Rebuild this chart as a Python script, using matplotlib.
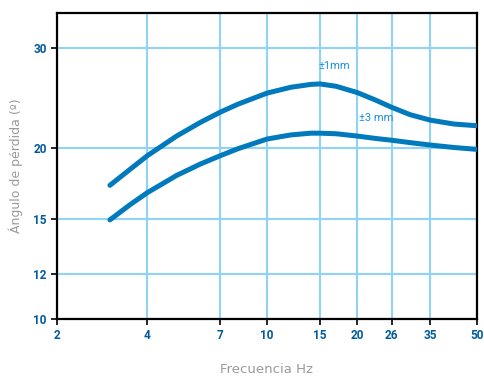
import matplotlib
matplotlib.use("Agg")
import matplotlib.pyplot as plt
from matplotlib.ticker import FixedLocator, NullLocator, FixedFormatter

# (Hz, degrees)
freq = [3, 3.5, 4, 5, 6, 7, 8, 10, 12, 14, 15, 17, 20, 23, 26, 30, 35, 42, 50]
angle_1mm = [17.2, 18.35, 19.4, 21.0, 22.2, 23.15, 23.9, 25.0, 25.6, 25.9, 25.95,
             25.7, 25.05, 24.3, 23.6, 22.9, 22.4, 22.05, 21.9]
angle_3mm = [14.95, 15.9, 16.7, 17.9, 18.75, 19.4, 19.95, 20.75, 21.1, 21.25, 21.25,
             21.2, 21.0, 20.8, 20.65, 20.45, 20.25, 20.05, 19.9]

xticks = [2, 4, 7, 10, 15, 20, 26, 35, 50]
yticks = [10, 12, 15, 20, 30]

line_col = '#0079bd'
grid_col = '#8fd4f8'
tick_col = '#005a9e'

fig = plt.figure(figsize=(4.84, 3.8), dpi=100)
ax = fig.add_axes([0.1178, 0.1605, 0.8677, 0.8053])

ax.plot(freq, angle_1mm, color=line_col, lw=3.6, solid_capstyle='round',
        solid_joinstyle='round', zorder=3)
ax.plot(freq, angle_3mm, color=line_col, lw=3.6, solid_capstyle='round',
        solid_joinstyle='round', zorder=3)

ax.set_xscale('log')
ax.set_yscale('log')
ax.set_xlim(2, 50)
ax.set_ylim(10, 34.6)

ax.xaxis.set_major_locator(FixedLocator(xticks))
ax.xaxis.set_major_formatter(FixedFormatter([str(t) for t in xticks]))
ax.xaxis.set_minor_locator(NullLocator())
ax.yaxis.set_major_locator(FixedLocator(yticks))
ax.yaxis.set_major_formatter(FixedFormatter([str(t) for t in yticks]))
ax.yaxis.set_minor_locator(NullLocator())

ax.grid(True, color=grid_col, lw=1.5, zorder=0)
for s in ax.spines.values():
    s.set_linewidth(1.6)
    s.set_color('black')
ax.tick_params(direction='out', length=4, width=1.2, color='black',
               labelcolor=tick_col, labelsize=8.5)
for lab in ax.get_xticklabels() + ax.get_yticklabels():
    lab.set_fontfamily('Roboto')
    lab.set_fontweight('bold')

ax.set_xlabel('Frecuencia Hz', color='#9a9a9a', fontsize=9.5, labelpad=15)
ax.set_ylabel('Ángulo de pérdida (º)', color='#9a9a9a', fontsize=9, labelpad=7)

ax.text(14.8, 27.9, '±1mm', color='#1a90d8', fontsize=8, ha='left', va='center',
        family='Roboto')
ax.text(20.3, 22.6, '±3 mm', color='#1a90d8', fontsize=8, ha='left', va='center',
        family='Roboto')

fig.savefig('out.png', dpi=100)
